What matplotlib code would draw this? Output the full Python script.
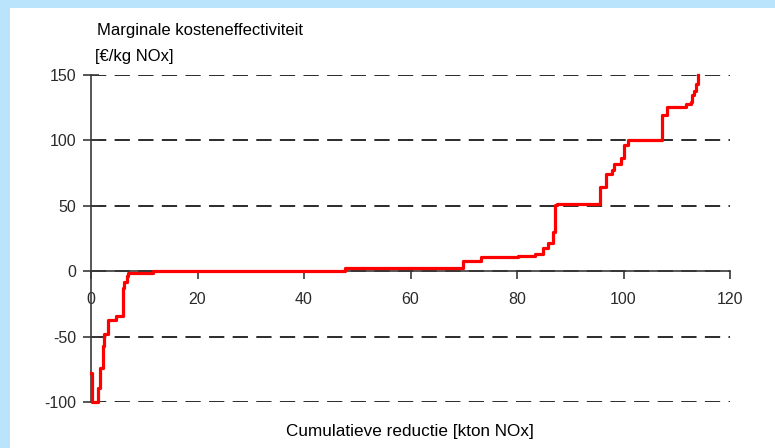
import matplotlib
matplotlib.use("Agg")
import matplotlib.pyplot as plt
from matplotlib.patches import Rectangle

plt.rcParams['font.family'] = ['Liberation Sans', 'DejaVu Sans']
plt.rcParams['lines.scale_dashes'] = False
plt.rcParams['axes.unicode_minus'] = False

# Cumulative reduction [kton NOx] where each step starts, and its marginal cost [EUR/kg NOx]
reductie = [0, 0.1, 1.4, 1.7, 2.2, 2.45, 3.25, 4.7, 5.95, 6.25, 6.7, 7.0, 11.6,
            47.7, 69.8, 73.2, 80.2, 83.4, 84.9, 85.9, 86.8, 87.1, 87.5, 95.6,
            96.7, 97.8, 98.3, 99.5, 100.0, 100.9, 107.2, 108.2, 111.7, 112.7,
            112.8, 113.2, 113.6, 114.0]
kosten = [-78, -100, -89.5, -74, -57, -48, -37, -34.5, -13, -8, -4, -1, 0.4,
          2.2, 7.6, 11, 11.7, 13.5, 17.8, 21.2, 30, 50.5, 51.5, 64.6,
          74, 77.2, 82.3, 86.2, 96.3, 100.5, 119.8, 125.7, 127.5, 129.5,
          134.6, 137.9, 143.5, 150]

xticks = [0, 20, 40, 60, 80, 100, 120]
yticks = [-100, -50, 0, 50, 100, 150]

fig = plt.figure(figsize=(7.75, 4.48), dpi=100)
fig.patch.set_facecolor('#bae3fc')
fig.patches.append(Rectangle((10 / 775, 0), 1, 1 - 8 / 448, transform=fig.transFigure,
                             facecolor='white', edgecolor='none', zorder=-5))

ax = fig.add_axes([91 / 775, 1 - 402 / 448, (730 - 91) / 775, (402 - 75) / 448])
ax.set_facecolor('none')
ax.set_zorder(2)

ax.plot(reductie, kosten, drawstyle='steps-post', color='#ff0000', lw=2.3,
        clip_on=False, zorder=3)

ax.set_xlim(0, 120)
ax.set_ylim(-100, 150)
ax.set_xticks(xticks)
ax.set_yticks(yticks)

for s in ['top', 'right']:
    ax.spines[s].set_visible(False)
ax.spines['bottom'].set_position(('data', 0))
for s in ['left', 'bottom']:
    ax.spines[s].set_color('#3a3a3a')
    ax.spines[s].set_linewidth(1.2)

ax.tick_params(axis='x', direction='out', length=6, width=1.2, color='#3a3a3a',
               labelsize=11.5, labelcolor='#2a2a2a', pad=9)
ax.tick_params(axis='y', direction='inout', length=11, width=1.2, color='#3a3a3a',
               labelsize=11.5, labelcolor='#2a2a2a', pad=5)

ax.yaxis.grid(True, color='#1a1a1a', lw=1.3, linestyle=(0, (11, 6)))
ax.set_axisbelow(True)

fig.text(97 / 775, 1 - 31 / 448, 'Marginale kosteneffectiviteit', fontsize=12,
         ha='left', va='center', color='#000000')
fig.text(95 / 775, 1 - 57 / 448, '[€/kg NOx]', fontsize=12,
         ha='left', va='center', color='#000000')
fig.text(410 / 775, 1 - 431 / 448, 'Cumulatieve reductie [kton NOx]', fontsize=12.3,
         ha='center', va='center', color='#000000')

fig.savefig('out.png', dpi=100, facecolor=fig.get_facecolor())
